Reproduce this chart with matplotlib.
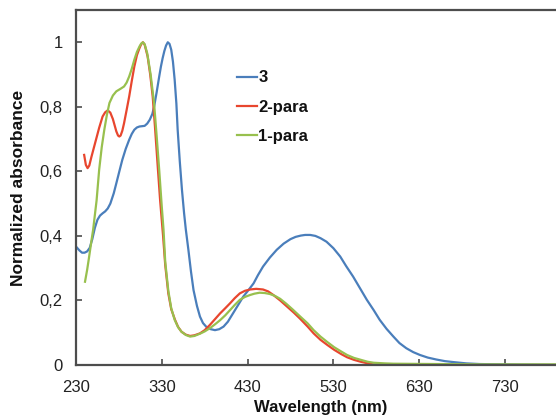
import matplotlib
matplotlib.use("Agg")
import matplotlib.pyplot as plt

plt.rcParams['font.family'] = ['Liberation Sans', 'DejaVu Sans']

# Series "3"
wl_3 = [230, 234, 237, 240, 243, 246, 249, 252, 255, 258, 261, 264, 267, 270, 274, 277,
        281, 284, 288, 292, 295, 298, 301, 304, 307, 310, 313, 316, 319, 321, 324, 327,
        329, 331, 333, 335, 337, 339, 341, 343, 345, 347, 348.5, 351, 353.5, 356, 358,
        361, 364, 367, 371, 374.5, 378, 382, 387, 392, 397, 402, 407, 413, 419, 425, 431,
        437, 442, 448, 456, 464, 472, 480, 486, 492, 497, 503, 509, 515, 522, 530, 538,
        545, 553, 561, 569, 577, 584, 592, 600, 607, 615, 623, 631, 640, 650, 660, 670,
        685, 700, 725, 750, 790]
abs_3 = [0.367, 0.355, 0.348, 0.348, 0.352, 0.363, 0.39, 0.425, 0.45, 0.463, 0.47, 0.476,
         0.485, 0.50, 0.532, 0.563, 0.605, 0.636, 0.67, 0.698, 0.716, 0.729, 0.736, 0.739,
         0.740, 0.741, 0.748, 0.76, 0.778, 0.80, 0.845, 0.894, 0.925, 0.951, 0.973, 0.99,
         1.0, 0.995, 0.977, 0.94, 0.884, 0.81, 0.729, 0.63, 0.543, 0.47, 0.42, 0.357, 0.29,
         0.232, 0.183, 0.15, 0.13, 0.118, 0.111, 0.108, 0.111, 0.119, 0.134, 0.16, 0.186,
         0.212, 0.232, 0.253, 0.278, 0.305, 0.333, 0.357, 0.376, 0.39, 0.397, 0.401, 0.403,
         0.403, 0.400, 0.393, 0.382, 0.362, 0.336, 0.306, 0.274, 0.238, 0.202, 0.17, 0.14,
         0.112, 0.088, 0.068, 0.052, 0.04, 0.031, 0.023, 0.017, 0.012, 0.009, 0.005, 0.003,
         0.002, 0.001, 0.0]

# Series "2-para"
wl_2 = [239.5, 241.5, 243.5, 245.5, 248, 251, 254, 257, 261, 264, 267, 270, 273, 275,
        277, 279, 280.5, 282, 284, 286, 289, 292, 295, 298, 301, 304, 306, 308, 310,
        313.5, 316.5, 319.4, 322, 325, 328, 331.5, 334, 337.6, 341, 345.4, 349, 353, 358,
        363, 368, 374.5, 380, 386, 392, 398, 404, 409.5, 415, 421, 427, 433, 440, 448,
        454, 460, 468, 476, 484, 491, 500, 507, 515, 523, 531, 539, 546, 554, 562, 572,
        580]
abs_2 = [0.651, 0.62, 0.61, 0.618, 0.645, 0.675, 0.705, 0.735, 0.77, 0.783, 0.789, 0.782,
         0.762, 0.743, 0.724, 0.711, 0.708, 0.711, 0.726, 0.749, 0.79, 0.832, 0.88, 0.925,
         0.96, 0.982, 0.994, 1.0, 0.993, 0.956, 0.90, 0.832, 0.74, 0.625, 0.512, 0.40, 0.31,
         0.222, 0.173, 0.14, 0.118, 0.103, 0.094, 0.09, 0.092, 0.098, 0.108, 0.124, 0.142,
         0.16, 0.176, 0.191, 0.207, 0.222, 0.23, 0.234, 0.236, 0.234, 0.228, 0.217, 0.20,
         0.181, 0.162, 0.144, 0.119, 0.098, 0.078, 0.062, 0.047, 0.034, 0.024, 0.016, 0.01,
         0.004, 0.0]

# Series "1-para"
wl_1 = [240.5, 243, 245, 248, 250, 252, 254, 257, 260, 263, 266, 269, 273, 277, 282, 286,
        289, 292, 295, 298, 301, 304, 306, 308, 310, 313, 317, 321, 324, 327, 330, 332,
        334, 337.6, 341, 345, 349, 353, 358, 363, 368, 374.5, 380, 386, 392, 398, 404,
        409.5, 415, 421, 427, 433, 438, 444, 450, 456, 462, 468, 475, 483, 491, 500, 507,
        515, 523, 531, 539, 546, 554, 562, 570, 577, 590, 600, 650, 700, 790]
abs_1 = [0.258, 0.295, 0.33, 0.385, 0.42, 0.465, 0.51, 0.605, 0.675, 0.729, 0.775, 0.812,
         0.835, 0.848, 0.856, 0.863, 0.875, 0.894, 0.918, 0.946, 0.97, 0.987, 0.996, 1.0,
         0.994, 0.966, 0.9, 0.811, 0.71, 0.604, 0.49, 0.42, 0.32, 0.23, 0.176, 0.14, 0.117,
         0.103, 0.093, 0.088, 0.09, 0.097, 0.104, 0.114, 0.126, 0.139, 0.154, 0.17, 0.186,
         0.202, 0.211, 0.217, 0.221, 0.224, 0.223, 0.22, 0.214, 0.205, 0.19, 0.171, 0.151,
         0.129, 0.108, 0.088, 0.071, 0.055, 0.042, 0.031, 0.022, 0.016, 0.01, 0.007, 0.005,
         0.004, 0.003, 0.002, 0.002]

series_labels = ["3", "2-para", "1-para"]
x_ticks = [230, 330, 430, 530, 630, 730]
y_ticks = [0, 0.2, 0.4, 0.6, 0.8, 1.0]
y_ticklabels = ["0", "0,2", "0,4", "0,6", "0,8", "1"]

fig = plt.figure(figsize=(5.56, 4.18), dpi=100)
ax = fig.add_axes([76/556, 53/418, 480/556, 355/418])

ax.plot(wl_3, abs_3, color='#4A7EBB', lw=1.6, label=series_labels[0])
ax.plot(wl_2, abs_2, color='#E8462E', lw=1.6, label=series_labels[1])
ax.plot(wl_1, abs_1, color='#98C04E', lw=1.6, label=series_labels[2])

ax.set_xlim(230, 789.5)
ax.set_ylim(0, 1.1)
ax.set_xticks(x_ticks)
ax.set_xticklabels([str(t) for t in x_ticks])
ax.set_yticks(y_ticks)
ax.set_yticklabels(y_ticklabels)

for s in ['left', 'bottom', 'top']:
    ax.spines[s].set_color('#4d4d4d')
    ax.spines[s].set_linewidth(1.6)
ax.spines['right'].set_visible(False)

ax.tick_params(axis='both', direction='in', length=4, width=1.2, color='#4d4d4d',
               labelsize=12, labelcolor='#222222')
ax.tick_params(axis='x', pad=11)
ax.tick_params(axis='y', pad=9.5)

ax.set_xlabel('Wavelength (nm)', fontsize=12, fontweight='bold', color='#111111', labelpad=1)
ax.xaxis.set_label_coords(0.51, -0.098)
ax.set_ylabel('Normalized absorbance', fontsize=12.5, fontweight='bold', color='#111111')
ax.yaxis.set_label_coords(-0.104, 0.5)

leg = ax.legend(loc='upper left', bbox_to_anchor=(0.335, 0.83), frameon=False,
                prop={'weight': 'bold', 'size': 12}, handlelength=1.2,
                handletextpad=0.1, labelspacing=0.85, borderaxespad=0, borderpad=0)
for t in leg.get_texts():
    t.set_color('#111111')

fig.savefig('out.png', dpi=100)
